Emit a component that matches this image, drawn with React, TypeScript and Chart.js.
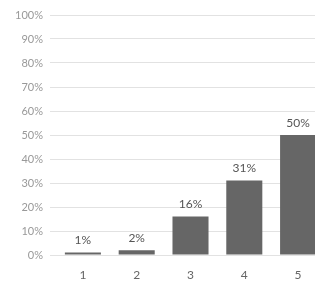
import React, { useEffect, useRef } from "react";
import { Chart, registerables } from "chart.js";

Chart.register(...registerables);

const categories = ["1", "2", "3", "4", "5"];
const values = [1, 2, 16, 31, 50];
const valueLabels = ["1%", "2%", "16%", "31%", "50%"];
const yTicks = [0, 10, 20, 30, 40, 50, 60, 70, 80, 90, 100];

const FONT = "Lato, 'DejaVu Sans', sans-serif";

const valueLabelPlugin = {
  id: "valueLabels",
  afterDatasetsDraw(chart: any) {
    const ctx = chart.ctx;
    const meta = chart.getDatasetMeta(0);
    ctx.save();
    ctx.textAlign = "center";
    meta.data.forEach((bar: any, i: number) => {
      ctx.fillStyle = "#555";
      ctx.font = `12px ${FONT}`;
      ctx.textBaseline = "bottom";
      ctx.fillText(valueLabels[i], bar.x, bar.y - 6);
      ctx.fillStyle = "#666";
      ctx.textBaseline = "middle";
      ctx.fillText(chart.data.labels[i], bar.x, chart.chartArea.bottom + 20);
    });
    ctx.restore();
  },
};

export default function App() {
  const ref = useRef<HTMLCanvasElement>(null);
  useEffect(() => {
    document.body.style.margin = "0";
    if (!ref.current) return;
    const chart = new Chart(ref.current, {
      type: "bar",
      data: {
        labels: categories,
        datasets: [
          {
            data: values,
            backgroundColor: "#666666",
            categoryPercentage: 1,
            barPercentage: 0.67,
          },
        ],
      },
      options: {
        animation: false,
        responsive: false,
        maintainAspectRatio: false,
        layout: { padding: { top: 15, right: 0, left: 0, bottom: 0 } },
        plugins: { legend: { display: false }, tooltip: { enabled: false } },
        scales: {
          x: {
            grid: { display: false, drawTicks: false },
            border: { display: false },
            ticks: { display: false },
            afterFit: (s: any) => {
              s.height = 27;
            },
          },
          y: {
            min: 0,
            max: 100,
            afterBuildTicks: (s: any) => {
              s.ticks = yTicks.map((v) => ({ value: v }));
            },
            grid: { color: "#e2e2e2", tickLength: 6, lineWidth: 1 },
            border: { display: false },
            ticks: {
              color: "#999",
              font: { family: FONT, size: 11 },
              padding: 7,
              callback: (v: any) => `${v}%`,
            },
            afterFit: (s: any) => {
              s.width = 56;
            },
          },
        },
      },
      plugins: [valueLabelPlugin],
    });
    return () => chart.destroy();
  }, []);
  return (
    <div style={{ width: 315, height: 282, overflow: "hidden", position: "relative" }}>
      <canvas ref={ref} width={325} height={282} style={{ display: "block" }} />
    </div>
  );
}
